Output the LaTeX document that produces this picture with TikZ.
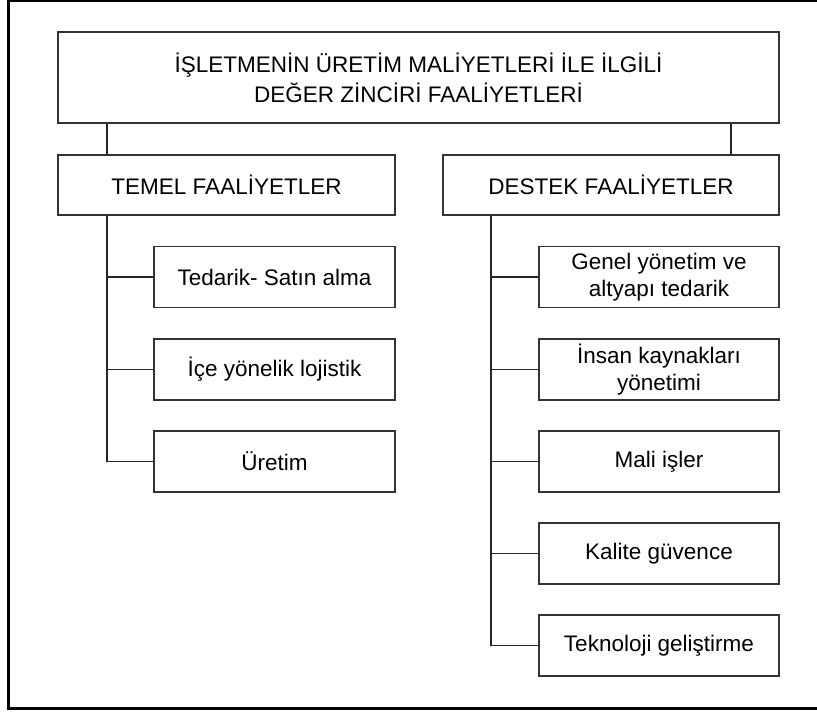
\documentclass[tikz,border=0pt]{standalone}
\usepackage{fontspec}
\setmainfont{Liberation Sans}
\begin{document}
\begin{tikzpicture}[x=1pt,y=-1pt,
  box/.style={draw=black!80,line width=1.8pt,rectangle,inner sep=0pt,align=center,
    font=\fontsize{22.5}{27}\selectfont},
  child/.style={box,minimum width=241pt,minimum height=61pt},
  head/.style={box,minimum height=60pt},
  conn/.style={draw=black!85,line width=1.8pt}]
\useasboundingbox (0,0) rectangle (817,712);
\draw[line width=2.6pt] (817,1) -- (8.7,1) -- (8.7,708.5) -- (817,708.5);
\node[box,minimum width=721pt,minimum height=91pt,font=\fontsize{22.5}{30}\selectfont] (title) at (418.5,77.5)
  {İŞLETMENİN ÜRETİM MALİYETLERİ İLE İLGİLİ\\DEĞER ZİNCİRİ FAALİYETLERİ};
\node[head,minimum width=337pt] (temel) at (226.5,185) {TEMEL FAALİYETLER};
\node[head,minimum width=336pt] (destek) at (611,185) {DESTEK FAALİYETLER};
\node[child] (l1) at (274.5,277) {Tedarik- Satın alma};
\node[child] (l2) at (274.5,369.5) {İçe yönelik lojistik};
\node[child] (l3) at (274.5,461.5) {Üretim};
\node[child,minimum width=240pt] (r1) at (659,277) {Genel yönetim ve\\altyapı tedarik};
\node[child,minimum width=240pt] (r2) at (659,369.5) {İnsan kaynakları\\yönetimi};
\node[child,minimum width=240pt] (r3) at (659,461.5) {Mali işler};
\node[child,minimum width=240pt] (r4) at (659,553.5) {Kalite güvence};
\node[child,minimum width=240pt] (r5) at (659,645.5) {Teknoloji geliştirme};
\coordinate (lx) at (107,0);
\coordinate (rx) at (731,0);
\coordinate (tx) at (491,0);
\draw[conn] (title.south -| lx) -- (temel.north -| lx);
\draw[conn] (title.south -| rx) -- (destek.north -| rx);
\draw[conn] (temel.south -| lx) -- (l3.west -| lx) -- (l3.west);
\draw[conn] (l1.west -| lx) -- (l1.west);
\draw[conn] (l2.west -| lx) -- (l2.west);
\draw[conn] (destek.south -| tx) -- (r5.west -| tx) -- (r5.west);
\draw[conn] (r1.west -| tx) -- (r1.west);
\draw[conn] (r2.west -| tx) -- (r2.west);
\draw[conn] (r3.west -| tx) -- (r3.west);
\draw[conn] (r4.west -| tx) -- (r4.west);
\end{tikzpicture}
\end{document}
